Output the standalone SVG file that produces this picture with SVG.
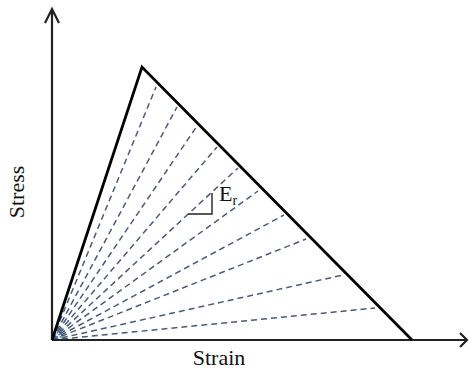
<svg xmlns="http://www.w3.org/2000/svg" width="469" height="370" viewBox="0 0 469 370">
<style>
.axis{stroke:#222;stroke-width:2.2;fill:none}
.tri{stroke:#000;stroke-width:2.8;fill:none;stroke-linejoin:miter}
.dash{stroke:#4a5a78;stroke-width:1.5;stroke-dasharray:6 4;fill:none}
.lbl{font-family:"Liberation Serif","Times New Roman",serif;font-size:22px;fill:#111}
</style>
<rect width="469" height="370" fill="#fff"/>
<g id="connectors">
<line class="dash" x1="52" y1="340" x2="156" y2="87"/>
<line class="dash" x1="52" y1="340" x2="177" y2="107"/>
<line class="dash" x1="52" y1="340" x2="197" y2="126"/>
<line class="dash" x1="52" y1="340" x2="217" y2="147"/>
<line class="dash" x1="52" y1="340" x2="238" y2="168"/>
<line class="dash" x1="52" y1="340" x2="258" y2="191"/>
<line class="dash" x1="52" y1="340" x2="284" y2="215"/>
<line class="dash" x1="52" y1="340" x2="306" y2="239"/>
<line class="dash" x1="52" y1="340" x2="343" y2="275"/>
<line class="dash" x1="52" y1="340" x2="375" y2="308"/>
<path d="M58,340 A6,6 0 0 0 54,334.3 M61,340 A9,9 0 0 0 55,331.5" stroke="#3d8bc4" stroke-width="1.8" fill="none" stroke-dasharray="1.5 1"/>
</g>
<g id="axes">
<path class="axis" d="M52,340 L52,9 M45,23 L52,9 L59,23"/>
<path class="axis" d="M52,340 L467,340 M460,333 L467,340 L460,347"/>
</g>
<g id="curve">
<path class="tri" d="M52,340 L142,67 L412,340"/>
</g>
<g id="slope">
<path d="M188,214 L212,214 L212,193" stroke="#222" stroke-width="1.4" fill="none"/>
<text class="lbl" x="219" y="201" font-size="21">E<tspan font-size="14" dy="4">r</tspan></text>
</g>
<g id="labels">
<text class="lbl" x="219" y="365" text-anchor="middle">Strain</text>
<text class="lbl" transform="translate(24,192) rotate(-90)" text-anchor="middle">Stress</text>
</g>
</svg>
